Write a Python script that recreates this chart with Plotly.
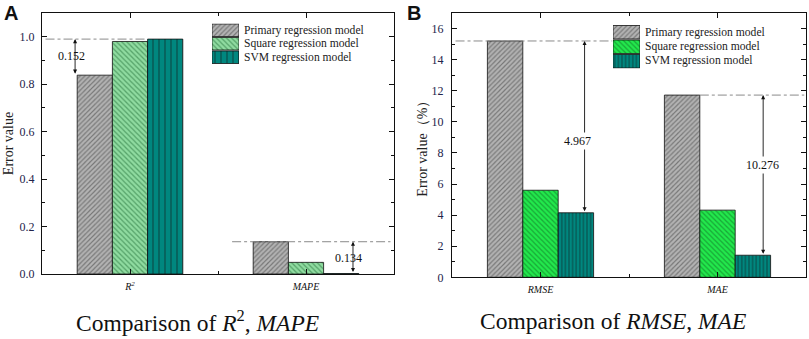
import plotly.graph_objects as go

# ---------------- data ----------------
models = ["Primary regression model", "Square regression model", "SVM regression model"]
cats_a = ["R<sup>2</sup>", "MAPE"]
cats_b = ["RMSE", "MAE"]
vals_a = {
    "Primary regression model": [0.838, 0.136],
    "Square regression model": [0.980, 0.049],
    "SVM regression model": [0.990, 0.002],
}
vals_b = {
    "Primary regression model": [15.20, 11.72],
    "Square regression model": [5.60, 4.32],
    "SVM regression model": [4.15, 1.42],
}
diff_labels_a = ["0.152", "0.134"]
diff_labels_b = ["4.967", "10.276"]
yticks_a = [0.0, 0.2, 0.4, 0.6, 0.8, 1.0]
yticks_b = [0, 2, 4, 6, 8, 10, 12, 14, 16]

# ---------------- styles ----------------
FONT = "Liberation Serif"
TICKC = "#23234a"
styles_a = {
    "Primary regression model": dict(shape="/", fgcolor="#3a3a3a", bgcolor="#b4b4b4", size=3.4, solidity=0.35),
    "Square regression model": dict(shape="\\", fgcolor="#1e6b34", bgcolor="#8fdba0", size=3.6, solidity=0.35),
    "SVM regression model": dict(shape="|", fgcolor="#111111", bgcolor="#00877f", size=6, solidity=0.2),
}
styles_b = {
    "Primary regression model": dict(shape="/", fgcolor="#3a3a3a", bgcolor="#b4b4b4", size=3.4, solidity=0.35),
    "Square regression model": dict(shape="\\", fgcolor="#0f6a22", bgcolor="#22e84c", size=3.6, solidity=0.35),
    "SVM regression model": dict(shape="|", fgcolor="#111111", bgcolor="#00877f", size=3.6, solidity=0.3),
}

W, H = 809, 339
xs = [1, 2]


def marker_for(st):
    return dict(color=st["bgcolor"], line=dict(color="#111", width=0.8),
                pattern=dict(shape=st["shape"], fgcolor=st["fgcolor"], bgcolor=st["bgcolor"],
                             size=st["size"], solidity=st["solidity"], fillmode="overlay"))


fig = go.Figure()
for m in models:
    fig.add_trace(go.Bar(x=xs, y=vals_a[m], name=m, xaxis="x", yaxis="y", showlegend=False,
                         marker=marker_for(styles_a[m])))
for m in models:
    fig.add_trace(go.Bar(x=xs, y=vals_b[m], name=m, xaxis="x2", yaxis="y2", showlegend=False,
                         marker=marker_for(styles_b[m])))

# legend swatches (drawn as small patterned bars on helper axes)
for i, m in enumerate(models):
    fig.add_trace(go.Bar(x=[1], y=[i], orientation="h", width=0.93, offset=-0.465,
                         xaxis="x3", yaxis="y3", showlegend=False, hoverinfo="skip",
                         marker=marker_for(styles_a[m])))
    fig.add_trace(go.Bar(x=[1], y=[i], orientation="h", width=0.93, offset=-0.465,
                         xaxis="x4", yaxis="y4", showlegend=False, hoverinfo="skip",
                         marker=marker_for(styles_b[m])))


def px_x(p):
    return p / W


def px_y(p):
    return 1 - p / H


axis_common = dict(
    showline=True, linecolor="#111", linewidth=1.3, mirror="ticks",
    ticks="inside", ticklen=5, tickwidth=1, tickcolor="#111",
    showgrid=False, zeroline=False, automargin=False,
)
hidden = dict(visible=False, fixedrange=True, showgrid=False, zeroline=False, automargin=False)

fig.update_layout(
    width=W, height=H, margin=dict(l=0, r=0, t=0, b=0, autoexpand=False),
    paper_bgcolor="white", plot_bgcolor="white",
    barmode="group", bargap=0.4, bargroupgap=0,
    font=dict(family=FONT, color="#111"),
    showlegend=False,
    xaxis=dict(domain=[px_x(42), px_x(394)], anchor="y", range=[0.5, 2.5],
               tickvals=xs, ticktext=["<i>" + c + "</i>" for c in cats_a], ticklabelstandoff=3,
               tickfont=dict(size=10, family=FONT, color="#111"),
               minor=dict(dtick=0.5, tick0=0.5, ticks="inside", ticklen=3, tickcolor="#111"),
               **axis_common),
    yaxis=dict(domain=[px_y(274), px_y(13)], anchor="x", range=[0, 1.1],
               tickvals=yticks_a, tickformat=".1f", ticklabelstandoff=4,
               tickfont=dict(size=12, family=FONT, color=TICKC),
               minor=dict(dtick=0.1, ticks="inside", ticklen=3, tickcolor="#111"),
               title=dict(text="Error value", font=dict(size=14, family=FONT, color="#222"), standoff=2),
               **axis_common),
    xaxis2=dict(domain=[px_x(452), px_x(806)], anchor="y2", range=[0.5, 2.5],
                tickvals=xs, ticktext=["<i>" + c + "</i>" for c in cats_b], ticklabelstandoff=3,
                tickfont=dict(size=10, family=FONT, color="#111"),
                minor=dict(dtick=0.5, tick0=0.5, ticks="inside", ticklen=3, tickcolor="#111"),
                **axis_common),
    yaxis2=dict(domain=[px_y(277.3), px_y(13)], anchor="x2", range=[0, 17],
                tickvals=yticks_b, ticklabelstandoff=5,
                tickfont=dict(size=12, family=FONT, color=TICKC),
                minor=dict(dtick=1, ticks="inside", ticklen=3, tickcolor="#111"),
                title=dict(text="Error value（%）", font=dict(size=14, family=FONT, color="#222"), standoff=0),
                **axis_common),
    xaxis3=dict(domain=[px_x(212), px_x(239)], anchor="y3", range=[0, 1], **hidden),
    yaxis3=dict(domain=[px_y(64), px_y(23.5)], anchor="x3", range=[2.5, -0.5], **hidden),
    xaxis4=dict(domain=[px_x(613), px_x(640)], anchor="y4", range=[0, 1], **hidden),
    yaxis4=dict(domain=[px_y(68.5), px_y(25)], anchor="x4", range=[2.5, -0.5], **hidden),
)

P, S, V = models
shapes = []
ann = []
dash = dict(color="#8a8a8a", width=1, dash="dashdot")
# Panel A
shapes.append(dict(type="line", xref="x", yref="y", x0=0.52, x1=1.1,
                   y0=vals_a[V][0], y1=vals_a[V][0], line=dash))
shapes.append(dict(type="line", xref="x", yref="y", x0=1.58, x1=2.48,
                   y0=vals_a[P][1], y1=vals_a[P][1], line=dash))
# Panel B
shapes.append(dict(type="line", xref="x2", yref="y2", x0=0.52, x1=1.405,
                   y0=vals_b[P][0], y1=vals_b[P][0], line=dash))
shapes.append(dict(type="line", xref="x2", yref="y2", x0=1.9, x1=2.49,
                   y0=vals_b[P][1], y1=vals_b[P][1], line=dash))


def darrow(xr, yr, x, y0, y1):
    return dict(xref=xr, yref=yr, axref=xr, ayref=yr, x=x, y=y1, ax=x, ay=y0,
                showarrow=True, arrowhead=2, arrowsize=0.9, arrowwidth=0.9,
                arrowcolor="#111", arrowside="end+start", text="")


ann.append(darrow("x", "y", 0.688, vals_a[P][0], vals_a[V][0]))
ann.append(darrow("x", "y", 2.267, vals_a[V][1], vals_a[P][1]))
ann.append(darrow("x2", "y2", 1.249, vals_b[V][0], vals_b[P][0]))
ann.append(darrow("x2", "y2", 2.258, vals_b[V][1], vals_b[P][1]))

lbl_font = dict(size=12, family=FONT, color="#111")
ann.append(dict(xref="x", yref="y", x=0.67, y=0.918, text=diff_labels_a[0], showarrow=False, font=lbl_font))
ann.append(dict(xref="x", yref="y", x=2.244, y=0.066, text=diff_labels_a[1], showarrow=False, font=lbl_font))
ann.append(dict(xref="x2", yref="y2", x=1.21, y=8.76, text=diff_labels_b[0], showarrow=False, font=lbl_font,
                bgcolor="white"))
ann.append(dict(xref="x2", yref="y2", x=2.252, y=7.22, text=diff_labels_b[1], showarrow=False, font=lbl_font,
                bgcolor="white"))

# legend texts
leg_font = dict(size=11.6, family=FONT, color="#222")
rows_a = [30, 43.5, 57]
rows_b = [32, 46.5, 61]
for i, m in enumerate(models):
    ann.append(dict(xref="paper", yref="paper", x=px_x(242), y=px_y(rows_a[i]), xanchor="left",
                    yanchor="middle", text=m, showarrow=False, font=leg_font))
    ann.append(dict(xref="paper", yref="paper", x=px_x(643), y=px_y(rows_b[i]), xanchor="left",
                    yanchor="middle", text=m, showarrow=False, font=leg_font))

# bottom captions
cap_font = dict(size=23.5, family=FONT, color="#111")
ann.append(dict(xref="paper", yref="paper", x=px_x(197), y=px_y(321), xanchor="center", yanchor="middle",
                text="Comparison of <i>R</i><sup>2</sup>, <i>MAPE</i>", showarrow=False, font=cap_font))
ann.append(dict(xref="paper", yref="paper", x=px_x(613), y=px_y(321), xanchor="center", yanchor="middle",
                text="Comparison of <i>RMSE</i>, <i>MAE</i>", showarrow=False, font=cap_font))
# panel letters
let_font = dict(size=20, family="Liberation Sans", color="#111")
ann.append(dict(xref="paper", yref="paper", x=px_x(2), y=px_y(0), xanchor="left", yanchor="top",
                text="<b>A</b>", showarrow=False, font=let_font))
ann.append(dict(xref="paper", yref="paper", x=px_x(405), y=px_y(0), xanchor="left", yanchor="top",
                text="<b>B</b>", showarrow=False, font=let_font))

fig.update_layout(shapes=shapes, annotations=ann)
fig.write_html("out.html", config={"displayModeBar": False},
               post_script="document.body.style.margin='0';document.body.style.overflow='hidden';")
